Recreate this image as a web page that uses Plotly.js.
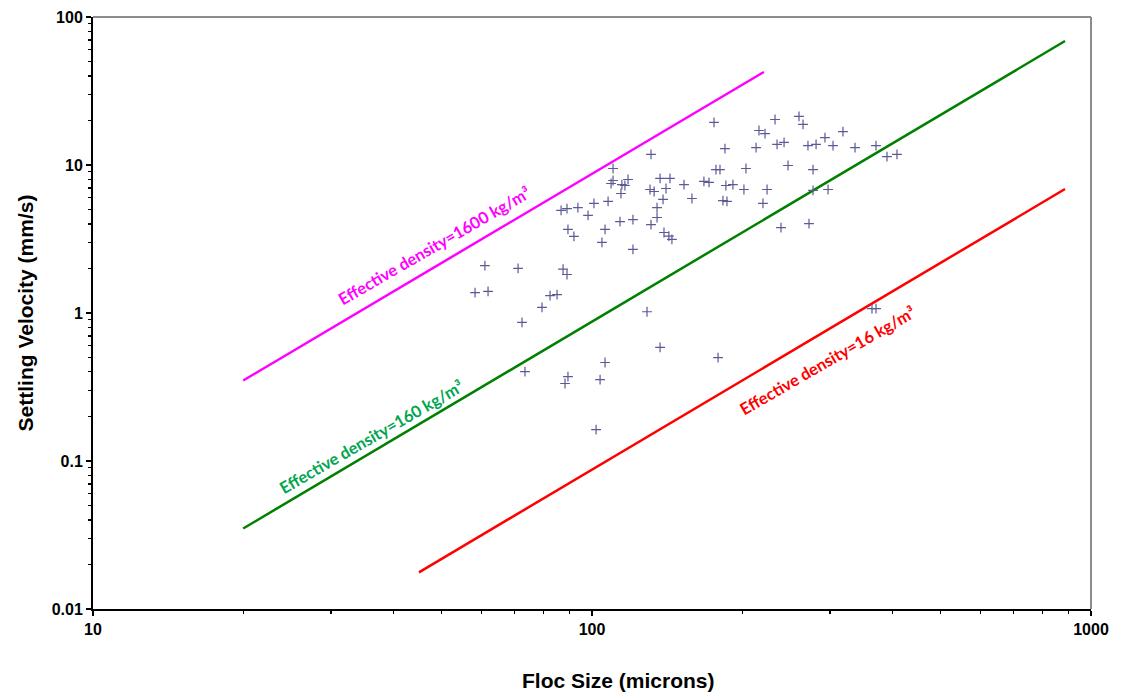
<!DOCTYPE html>
<html>
<head>
<meta charset="utf-8">
<script src="https://cdn.plot.ly/plotly-3.0.1.min.js"></script>
<style>
html,body{margin:0;padding:0;background:#fff;}
#chart{width:1125px;height:695px;}
</style>
</head>
<body>
<div id="chart"></div>
<script>
// Floc measurements (size in microns, settling velocity in mm/s)
const flocSize = [61.0, 71.1, 58.3, 61.9, 82.4, 85.1, 87.5, 89.1, 79.4, 72.4,
  73.4, 89.5, 88.3, 101.9, 103.8, 106.2, 128.9, 136.9, 178.9, 364,
  370.8, 86.7, 89.1, 93.7, 98.2, 100.9, 107.7, 113.8, 120.8, 89.5,
  92.0, 106.2, 104.7, 120.8, 110.2, 110.2, 109.2, 118.1, 114.8, 116.4,
  114.3, 131.3, 136.9, 143.3, 130.7, 133.2, 140.7, 138.8, 135.0, 135.0,
  131.3, 139.4, 142.6, 144.6, 175.6, 232.7, 259.9, 264.8, 216.1, 222.2,
  184.7, 213.2, 234.9, 242.6, 247.1, 203.5, 177.2, 180.5, 152.9, 167.6,
  171.6, 185.5, 191.6, 201.6, 224.3, 158.6, 183.0, 186.4, 220.1, 239.2,
  318.4, 293.0, 270.9, 281.2, 304.1, 336.6, 370.8, 390.1, 408.5, 277.3,
  277.3, 297.2, 272.2];
const settlingVel = [2.09, 2.00, 1.375, 1.40, 1.31, 1.33, 1.98, 1.82, 1.09, 0.863,
  0.402, 0.372, 0.334, 0.163, 0.355, 0.463, 1.02, 0.585, 0.50, 1.07,
  1.07, 4.93, 5.08, 5.16, 4.56, 5.50, 5.67, 4.15, 4.28, 3.67,
  3.29, 3.67, 3.00, 2.69, 9.47, 7.86, 7.50, 7.98, 7.38, 7.27,
  6.42, 11.8, 8.11, 8.11, 6.83, 6.62, 6.94, 5.85, 5.16, 4.42,
  3.96, 3.50, 3.31, 3.14, 19.4, 20.3, 21.3, 18.8, 17.1, 16.3,
  12.9, 13.1, 13.8, 14.2, 9.92, 9.47, 9.32, 9.32, 7.38, 7.74,
  7.62, 7.27, 7.38, 6.83, 6.83, 5.94, 5.75, 5.67, 5.50, 3.78,
  16.8, 15.3, 13.5, 13.8, 13.5, 13.1, 13.5, 11.4, 11.8, 9.32,
  6.73, 6.83, 4.02];

// Effective density reference lines (end points)
const rho1600X = [20, 221];
const rho1600Y = [0.35, 42.5];
const rho160X = [20, 887];
const rho160Y = [0.035, 68.8];
const rho16X = [45, 887];
const rho16Y = [0.0177, 6.88];

// Labels
const label1600 = "Effective density=1600 kg/m³";
const label160 = "Effective density=160 kg/m³";
const label16 = "Effective density=16 kg/m³";
const xTitle = "Floc Size (microns)";
const yTitle = "Settling Velocity (mm/s)";

// Tick labels
const xTickVals = [10, 100, 1000];
const xTickText = ["10", "100", "1000"];
const yTickVals = [0.01, 0.1, 1, 10, 100];
const yTickText = ["0.01", "0.1", "1", "10", "100"];

function minorTicks(decades) {
  const out = [];
  decades.forEach(d => { for (let m = 2; m <= 9; m++) out.push(m * d); });
  return out;
}
const xMinor = minorTicks([10, 100]);
const yMinor = minorTicks([0.01, 0.1, 1, 10]);

const traces = [
  {x: rho1600X, y: rho1600Y, mode: 'lines', line: {color: '#ff00ff', width: 2.5}, hoverinfo: 'skip'},
  {x: rho160X, y: rho160Y, mode: 'lines', line: {color: '#008000', width: 2.5}, hoverinfo: 'skip'},
  {x: rho16X, y: rho16Y, mode: 'lines', line: {color: '#ff0000', width: 2.5}, hoverinfo: 'skip'},
  {x: flocSize, y: settlingVel, mode: 'markers',
   marker: {symbol: 'cross-thin', size: 7, line: {color: '#5a5a96', width: 1.2}, color: '#5a5a96'}}
];

const labFont = {family: 'Lato, "Open Sans", sans-serif', size: 16.5, weight: 'bold'};
const axFont = 'Liberation Sans, Arial, sans-serif';

const layout = {
  width: 1125, height: 695,
  margin: {l: 93, r: 34, t: 17, b: 86},
  paper_bgcolor: '#ffffff', plot_bgcolor: '#ffffff',
  showlegend: false,
  font: {family: axFont, color: '#000'},
  xaxis: {
    type: 'log', range: [1, 3],
    tickvals: xTickVals, ticktext: xTickText,
    ticks: 'outside', ticklen: 5, tickwidth: 1.5, tickcolor: '#000',
    minor: {tickvals: xMinor, ticks: 'outside', ticklen: 3, tickwidth: 1.2, tickcolor: '#000', showgrid: false},
    showgrid: false, zeroline: false,
    showline: true, linecolor: '#000', linewidth: 2,
    tickfont: {size: 16, weight: 'bold', color: '#000', family: axFont}
  },
  yaxis: {
    type: 'log', range: [-2, 2],
    tickvals: yTickVals, ticktext: yTickText,
    ticks: 'outside', ticklen: 5, tickwidth: 1.5, tickcolor: '#000',
    minor: {tickvals: yMinor, ticks: 'outside', ticklen: 3, tickwidth: 1.2, tickcolor: '#000', showgrid: false},
    showgrid: false, zeroline: false,
    showline: true, linecolor: '#000', linewidth: 2,
    tickfont: {size: 16, weight: 'bold', color: '#000', family: axFont},
    title: {text: yTitle, font: {size: 21, weight: 'bold', color: '#000', family: axFont}, standoff: 12}
  },
  shapes: [
    {type: 'line', xref: 'paper', yref: 'paper', x0: 0, x1: 1, y0: 1, y1: 1, line: {color: '#8c8c8c', width: 2}},
    {type: 'line', xref: 'paper', yref: 'paper', x0: 1, x1: 1, y0: 0, y1: 1, line: {color: '#8c8c8c', width: 2}}
  ],
  annotations: [
    {text: xTitle, xref: 'paper', yref: 'paper', x: 0.527, y: -0.1216, xanchor: 'center', yanchor: 'middle', showarrow: false,
     font: {size: 21, weight: 'bold', color: '#000', family: axFont}},
    {text: label1600, x: Math.log10(48.3), y: Math.log10(2.85), xref: 'x', yref: 'y', showarrow: false, textangle: -30, font: Object.assign({}, labFont, {color: '#ff00ff'})},
    {text: label160, x: Math.log10(36.2), y: Math.log10(0.145), xref: 'x', yref: 'y', showarrow: false, textangle: -30, font: Object.assign({}, labFont, {color: '#00a650'})},
    {text: label16, x: Math.log10(296), y: Math.log10(0.475), xref: 'x', yref: 'y', showarrow: false, textangle: -30, font: Object.assign({}, labFont, {color: '#ff0000'})}
  ]
};

Plotly.newPlot('chart', traces, layout, {displayModeBar: false, staticPlot: true});
</script>
</body>
</html>
